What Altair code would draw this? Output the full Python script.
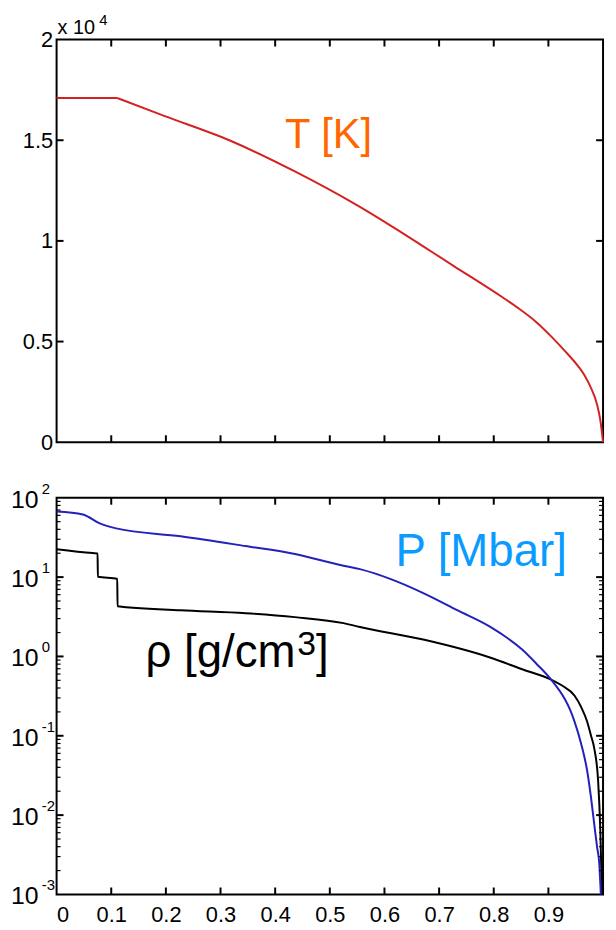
import altair as alt
import pandas as pd

# ---------------- data ----------------
# top panel: temperature [K] vs normalised radius (flat core, then decline)
T_CORE_X = [0.0, 0.111]
T_CORE_K = [17100, 17100]
T_X = [0.111, 0.198, 0.316, 0.436, 0.548, 0.609, 0.727, 0.816, 0.846,
       0.877, 0.905, 0.930, 0.954, 0.966, 0.977, 0.989, 0.995, 1.0]
T_K = [17100, 16200, 15000, 13450, 11800, 10800, 8750, 7200, 6640,
       5990, 5260, 4540, 3790, 3330, 2750, 1880, 1100, 0]

# bottom panel: density [g/cm3]
RHO_X = [0.0, 0.066, 0.075, 0.0755, 0.111, 0.1115, 0.227, 0.346, 0.436, 0.525,
         0.555, 0.673, 0.793, 0.852, 0.905, 0.925, 0.948, 0.960, 0.971, 0.978,
         0.984, 0.991, 0.995, 0.998]
RHO = [22.5, 20.1, 19.9, 10.1, 9.55, 4.29, 3.82, 3.51, 3.13, 2.63,
       2.35, 1.62, 0.97, 0.69, 0.51, 0.43, 0.32, 0.23, 0.15, 0.10,
       0.069, 0.027, 0.0065, 0.001]

# bottom panel: pressure [Mbar]
P_X = [0.0, 0.048, 0.079, 0.109, 0.227, 0.346, 0.436, 0.525, 0.555, 0.614,
       0.673, 0.734, 0.793, 0.852, 0.878, 0.905, 0.930, 0.940, 0.948, 0.960,
       0.971, 0.978, 0.984, 0.989, 0.993, 0.996]
P_MBAR = [67, 61.5, 47.5, 41.1, 32.7, 24.6, 19.6, 13.9, 12.6, 9.3,
          6.2, 3.8, 2.37, 1.22, 0.81, 0.51, 0.29, 0.21, 0.15, 0.079,
          0.036, 0.0166, 0.0076, 0.004, 0.0025, 0.001]

X_TICKS = [0.1, 0.2, 0.3, 0.4, 0.5, 0.6, 0.7, 0.8, 0.9]
X_LABELS = [0, 0.1, 0.2, 0.3, 0.4, 0.5, 0.6, 0.7, 0.8, 0.9]
T_AXIS = [0, 5000, 10000, 15000, 20000]
T_TICKS = [5000, 10000, 15000]
DECADES = [-3, -2, -1, 0, 1, 2]
MAJOR_LOG_TICKS = [0.01, 0.1, 1, 10]
MINOR_LOG_TICKS = [m * 10.0 ** e for e in [-3, -2, -1, 0, 1] for m in range(2, 10)]

# ---------------- styling ----------------
W, H1, H2 = 551, 406, 400
FONT = "Liberation Sans"
RED = "#D42222"
BLUE = "#2222BB"
ORANGE = "#FF6600"
SKY = "#0A9BFF"
TICK = 7
MINOR = 4


def xenc(axis=None):
    return alt.X("x:Q", scale=alt.Scale(domain=[0, 1], nice=False, zero=False), axis=axis)


top_yaxis = alt.Axis(values=T_AXIS, labelExpr="datum.value / 10000", domain=False,
                     ticks=False, tickSize=0, grid=False, labelFont=FONT,
                     labelFontSize=22, labelColor="black", labelPadding=4, title=None)


def ytop():
    return alt.Y("y:Q", scale=alt.Scale(domain=[0, 20000], nice=False, zero=False),
                 axis=top_yaxis)


bottom_xaxis = alt.Axis(values=X_LABELS, format="~g", domain=False, ticks=False,
                        tickSize=0, grid=False, labelFont=FONT, labelFontSize=22,
                        labelColor="black", labelPadding=10, title=None)


def ylog():
    return alt.Y("y:Q", scale=alt.Scale(type="log", domain=[0.001, 100], nice=False),
                 axis=None)


def rule(w=2):
    return dict(color="black", strokeWidth=w)


# ---------------- top panel ----------------
df_T = pd.DataFrame({
    "x": T_CORE_X + T_X,
    "y": T_CORE_K + T_K,
    "seg": ["core"] * len(T_CORE_X) + ["outer"] * len(T_X),
})
df_xt = pd.DataFrame({"x": X_TICKS})
df_tt = pd.DataFrame({"y": T_TICKS})

t_line = alt.Chart(df_T).mark_line(color=RED, strokeWidth=2, interpolate="monotone").encode(
    x=xenc(), y=ytop(), detail="seg:N")
t_xb = alt.Chart(df_xt).mark_rule(**rule()).encode(x=xenc(), y=alt.value(H1), y2=alt.value(H1 - TICK))
t_xt = alt.Chart(df_xt).mark_rule(**rule()).encode(x=xenc(), y=alt.value(0), y2=alt.value(TICK))
t_yl = alt.Chart(df_tt).mark_rule(**rule()).encode(y=ytop(), x=alt.value(0), x2=alt.value(TICK))
t_yr = alt.Chart(df_tt).mark_rule(**rule()).encode(y=ytop(), x=alt.value(W), x2=alt.value(W - TICK))
t_lab = alt.Chart(pd.DataFrame({"x": [0.418], "y": [14630], "t": ["T [K]"]})).mark_text(
    align="left", baseline="alphabetic", font=FONT, fontSize=42, color=ORANGE
).encode(x=xenc(), y=ytop(), text="t:N")
mult = alt.Chart(pd.DataFrame({"t": ["x 10"]})).mark_text(
    align="left", baseline="alphabetic", font=FONT, fontSize=20, color="black"
).encode(x=alt.value(1), y=alt.value(-6), text="t:N")
mult_exp = alt.Chart(pd.DataFrame({"t": ["4"]})).mark_text(
    align="left", baseline="alphabetic", font=FONT, fontSize=15, color="black"
).encode(x=alt.value(43), y=alt.value(-15), text="t:N")

top = alt.layer(t_line, t_xb, t_xt, t_yl, t_yr, t_lab, mult, mult_exp).properties(
    width=W, height=H1)

# ---------------- bottom panel ----------------
df_rho = pd.DataFrame({"x": RHO_X, "y": RHO, "i": range(len(RHO))})
df_P = pd.DataFrame({"x": P_X, "y": P_MBAR, "i": range(len(P_MBAR))})
df_maj = pd.DataFrame({"y": MAJOR_LOG_TICKS})
df_min = pd.DataFrame({"y": MINOR_LOG_TICKS})
df_dec = pd.DataFrame({"y": [10.0 ** e for e in DECADES], "b": ["10"] * len(DECADES),
                       "e": [str(e) for e in DECADES]})

p_line = alt.Chart(df_P).mark_line(color=BLUE, strokeWidth=2, interpolate="monotone").encode(
    x=xenc(bottom_xaxis), y=ylog(), order="i:Q")
r_line = alt.Chart(df_rho).mark_line(color="black", strokeWidth=2, interpolate="monotone").encode(
    x=xenc(bottom_xaxis), y=ylog(), order="i:Q")
b_xb = alt.Chart(df_xt).mark_rule(**rule()).encode(x=xenc(bottom_xaxis), y=alt.value(H2), y2=alt.value(H2 - TICK))
b_xt = alt.Chart(df_xt).mark_rule(**rule()).encode(x=xenc(bottom_xaxis), y=alt.value(0), y2=alt.value(TICK))
b_yl = alt.Chart(df_maj).mark_rule(**rule()).encode(y=ylog(), x=alt.value(0), x2=alt.value(TICK))
b_yr = alt.Chart(df_maj).mark_rule(**rule()).encode(y=ylog(), x=alt.value(W), x2=alt.value(W - TICK))
b_ml = alt.Chart(df_min).mark_rule(**rule(1.2)).encode(y=ylog(), x=alt.value(0), x2=alt.value(MINOR))
b_mr = alt.Chart(df_min).mark_rule(**rule(1.2)).encode(y=ylog(), x=alt.value(W), x2=alt.value(W - MINOR))
dec_base = alt.Chart(df_dec).mark_text(
    align="left", baseline="middle", font=FONT, fontSize=25, color="black", dy=2
).encode(x=alt.value(-46), y=ylog(), text="b:N")
dec_exp = alt.Chart(df_dec).mark_text(
    align="left", baseline="middle", font=FONT, fontSize=15, color="black", dy=-9
).encode(x=alt.value(-15), y=ylog(), text="e:N")
p_lab = alt.Chart(pd.DataFrame({"x": [0.62], "y": [13.9], "t": ["P [Mbar]"]})).mark_text(
    align="left", baseline="alphabetic", font=FONT, fontSize=46, color=SKY
).encode(x=xenc(bottom_xaxis), y=ylog(), text="t:N")
df_rl = pd.DataFrame({"x": [0.1625], "y": [0.726], "a": ["ρ [g/cm"], "s": ["3"], "c": ["]"]})
r_lab = alt.Chart(df_rl).mark_text(
    align="left", baseline="alphabetic", font=FONT, fontSize=46, color="black"
).encode(x=xenc(bottom_xaxis), y=ylog(), text="a:N")
r_sup = alt.Chart(df_rl).mark_text(
    align="left", baseline="alphabetic", font=FONT, fontSize=34, color="black", dx=153, dy=-13
).encode(x=xenc(bottom_xaxis), y=ylog(), text="s:N")
r_end = alt.Chart(df_rl).mark_text(
    align="left", baseline="alphabetic", font=FONT, fontSize=46, color="black", dx=172
).encode(x=xenc(bottom_xaxis), y=ylog(), text="c:N")

bottom = alt.layer(r_line, p_line, b_xb, b_xt, b_yl, b_yr, b_ml, b_mr,
                   dec_base, dec_exp, p_lab, r_lab, r_sup, r_end).properties(
    width=W, height=H2)

chart = alt.vconcat(top, bottom, spacing=27).properties(
    padding={"left": 2, "top": 0, "right": 0, "bottom": 0}
).configure_view(stroke="black", strokeWidth=2)

chart.save("out.html", embed_options={"renderer": "svg", "actions": False})
